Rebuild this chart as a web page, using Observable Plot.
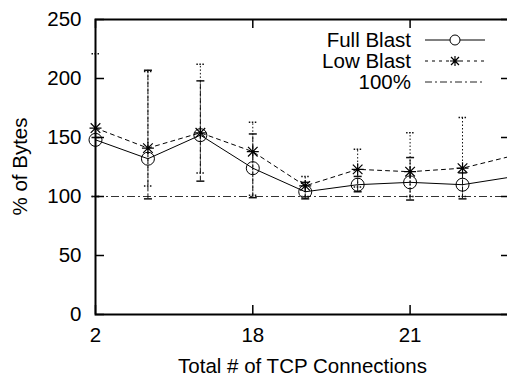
<!DOCTYPE html>
<html><head><meta charset="utf-8">
<script src="https://cdn.jsdelivr.net/npm/d3@7"></script>
<script src="https://cdn.jsdelivr.net/npm/@observablehq/plot@0.6"></script>
<style>html,body{margin:0;padding:0;overflow:hidden;background:#fff;width:507px;height:379px}#chart{width:507px;height:379px;overflow:hidden}#chart svg{display:block}</style>
</head><body><div id="chart"></div>
<script>
// ---- data ----
const connIndex = [0, 1, 2, 3, 4, 5, 6, 7, 8];
const fullBlast = [148, 132, 152, 124, 104, 110, 112, 110, 117];
const lowBlast  = [158, 141, 154, 138, 109, 123, 121, 124, 135];
const fullLo = [100,  98, 113,  99,  98, 104,  97,  98, 106];
const fullHi = [150, 207, 198, 153, 112, 117, 133, 120, 128];
const lowLo  = [100, 109, 120, 101, 100, 108, 100, 100, 112];
const lowHi  = [221, 206, 212, 163, 117, 140, 154, 167, 160];
const referenceLevel = [100];
const xTickPos = [0, 3, 6];
const xTickLabels = ["2", "18", "21"];
const yTicks = [0, 50, 100, 150, 200, 250];
const seriesNames = ["Full Blast", "Low Blast", "100%"];
const xTitle = "Total # of TCP Connections";
const yTitle = "% of Bytes";

const rows = connIndex.map((i, k) => ({
  i, full: fullBlast[k], low: lowBlast[k],
  fLo: fullLo[k], fHi: fullHi[k], lLo: lowLo[k], lHi: lowHi[k]
}));

const VW = 507, W = 516, H = 379, ML = 95, MR = 6, MT = 19, MB = 65;
const pw = W - ML - MR, ph = H - MT - MB;
const FONT = "'Liberation Sans', Arial, Helvetica, sans-serif";
const FS = 20.5;

const capSym = {draw(ctx, size) { const r = Math.sqrt(size / Math.PI); ctx.moveTo(-r, 0); ctx.lineTo(r, 0); }};
const starSym = {draw(ctx, size) {
  const r = Math.sqrt(size / Math.PI), d = r * 0.8;
  ctx.moveTo(-r, 0); ctx.lineTo(r, 0); ctx.moveTo(0, -r); ctx.lineTo(0, r);
  ctx.moveTo(-d, -d); ctx.lineTo(d, d); ctx.moveTo(-d, d); ctx.lineTo(d, -d);
}};

const barStroke = "#111";
const chart = Plot.plot({
  width: W, height: H, marginLeft: ML, marginRight: MR, marginTop: MT, marginBottom: MB,
  style: {fontFamily: FONT, fontSize: FS + "px", color: "#000", background: "#fff"},
  x: {domain: [0, 7.915], axis: null},
  y: {domain: [0, 250], axis: null},
  marks: [
    Plot.ruleY(referenceLevel, {stroke: "#333", strokeDasharray: "8,3,2,3", strokeWidth: 1}),
    // Full Blast error bars
    Plot.ruleX(rows, {x: "i", y1: "fLo", y2: "fHi", stroke: barStroke, strokeDasharray: "5,2", strokeWidth: 1}),
    Plot.dot(rows, {x: "i", y: "fLo", symbol: capSym, r: 4, stroke: barStroke, fill: "none"}),
    Plot.dot(rows, {x: "i", y: "fHi", symbol: capSym, r: 4, stroke: barStroke, fill: "none"}),
    // Low Blast error bars
    Plot.ruleX(rows, {x: "i", y1: "lLo", y2: "lHi", stroke: barStroke, strokeDasharray: "1.5,2", strokeWidth: 1}),
    Plot.dot(rows, {x: "i", y: "lLo", symbol: capSym, r: 4, stroke: barStroke, fill: "none", strokeDasharray: "1.5,1.5"}),
    Plot.dot(rows, {x: "i", y: "lHi", symbol: capSym, r: 4, stroke: barStroke, fill: "none", strokeDasharray: "1.5,1.5"}),
    // lines
    Plot.line(rows, {x: "i", y: "full", stroke: "#000", strokeWidth: 1}),
    Plot.line(rows, {x: "i", y: "low", stroke: "#000", strokeWidth: 1, strokeDasharray: "4,4"}),
    Plot.dot(rows, {x: "i", y: "full", r: 6.5, stroke: "#000", fill: "none", strokeWidth: 1}),
    Plot.dot(rows, {x: "i", y: "low", symbol: starSym, r: 6, stroke: "#000", fill: "none", strokeWidth: 1.2}),
    // inward ticks
    Plot.tickY(yTicks, {y: d => d, insetRight: pw - 9, stroke: "#000", strokeWidth: 1.5}),
    Plot.tickY(yTicks, {y: d => d, insetLeft: pw - 9, stroke: "#000", strokeWidth: 1.5}),
    Plot.tickX(xTickPos, {x: d => d, insetTop: ph - 9, stroke: "#000", strokeWidth: 1.5}),
    Plot.tickX(xTickPos, {x: d => d, insetBottom: ph - 9, stroke: "#000", strokeWidth: 1.5}),
    Plot.axisY({ticks: yTicks, tickSize: 0, tickPadding: 14, label: null, fontSize: FS}),
    Plot.axisX({ticks: xTickPos, tickSize: 0, tickPadding: 13, label: null, fontSize: FS,
      tickFormat: d => xTickLabels[xTickPos.indexOf(d)]}),
    Plot.frame({stroke: "#000", strokeWidth: 2})
  ]
});
// the reference is cropped at the right: show only the first 507 px of the drawing
chart.setAttribute("width", VW);
chart.setAttribute("viewBox", `0 0 ${VW} ${H}`);
chart.style.overflow = "hidden";
document.getElementById("chart").appendChild(chart);

// ---- titles and legend ----
const svg = d3.select(chart);
svg.append("text").attr("transform", `translate(20,${MT + ph / 2}) rotate(-90)`)
  .attr("text-anchor", "middle").attr("dy", "0.35em")
  .attr("font-family", FONT).attr("font-size", FS).attr("fill", "#000").text(yTitle);
svg.append("text").attr("x", ML + pw / 2).attr("y", 366)
  .attr("text-anchor", "middle").attr("dy", "0.35em")
  .attr("font-family", FONT).attr("font-size", FS).attr("fill", "#000").text(xTitle);

const lg = svg.append("g").attr("font-family", FONT).attr("font-size", FS);
const styles = [
  {dash: null, sym: "circle", stroke: "#000"},
  {dash: "3,4", sym: "star", stroke: "#000"},
  {dash: "7,3,2,3", sym: null, stroke: "#222"}
];
seriesNames.forEach((name, k) => {
  const y = 40 + k * 21;
  const st = styles[k];
  lg.append("text").attr("x", 411).attr("y", y).attr("dy", "0.35em")
    .attr("text-anchor", "end").attr("fill", "#000").text(name);
  const ln = lg.append("line").attr("x1", 425).attr("x2", 485).attr("y1", y).attr("y2", y)
    .attr("stroke", st.stroke).attr("stroke-width", 1);
  if (st.dash) ln.attr("stroke-dasharray", st.dash);
  if (st.sym === "circle") {
    lg.append("circle").attr("cx", 455).attr("cy", y).attr("r", 5)
      .attr("fill", "#fff").attr("stroke", "#000");
  } else if (st.sym === "star") {
    lg.append("path").attr("transform", `translate(455,${y})`)
      .attr("d", d3.symbol(starSym, Math.PI * 25)())
      .attr("fill", "none").attr("stroke", "#000").attr("stroke-width", 1.2);
  }
});
</script>
</body></html>
